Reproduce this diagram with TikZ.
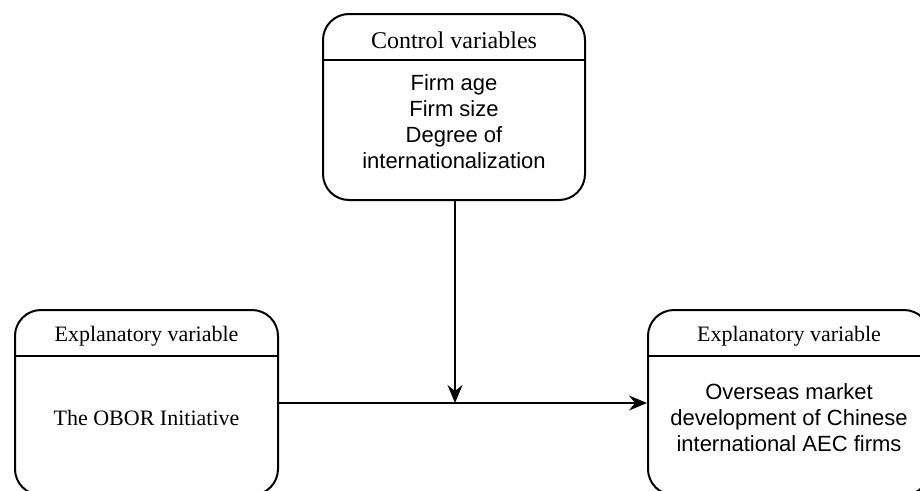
\documentclass[tikz,border=0pt]{standalone}
\usepackage{fontspec}
\setmainfont{Liberation Serif}
\setsansfont{Liberation Sans}
\usepackage{tikz}
\usetikzlibrary{arrows.meta,positioning}
\tikzstyle{varbox} = [rectangle, rounded corners=26pt, draw, line width=2pt, inner sep=0pt]
\tikzstyle{headtext} = [font=\fontsize{22}{26}\selectfont\rmfamily, anchor=center]
\tikzstyle{bodytext} = [font=\fontsize{22}{26}\selectfont\sffamily, align=center, anchor=center]
\tikzstyle{arrow} = [line width=2pt, -{Stealth[length=18pt,width=15pt,inset=6pt]}]

\begin{document}
\begin{tikzpicture}[x=1pt,y=-1pt]
\useasboundingbox (0,0) rectangle (920,490);
\clip (0,0) rectangle (920,490);

% Control variables
\node[varbox, minimum width=262pt, minimum height=186pt] (ctrl) at (454,107) {};
\draw[line width=2pt] (ctrl.west |- 0,60) -- (ctrl.east |- 0,60);
\node[headtext, font=\fontsize{24}{28}\selectfont\rmfamily] (ctrlhead) at (454,40) {Control variables};
\node[bodytext] (ctrlbody) at (454,122) {Firm age\\Firm size\\Degree of\\internationalization};

% Explanatory variable (left)
\node[varbox, minimum width=263pt, minimum height=185pt] (expl) at (146.5,402.5) {};
\draw[line width=2pt] (expl.west |- 0,356) -- (expl.east |- 0,356);
\node[headtext] (explhead) at (146.5,336) {Explanatory variable};
\node[headtext] (explbody) at (146.5,418) {The OBOR Initiative};

% Explanatory variable (right)
\node[varbox, minimum width=282pt, minimum height=185pt] (dev) at (789,402.5) {};
\draw[line width=2pt] (dev.west |- 0,356) -- (dev.east |- 0,356);
\node[headtext] (devhead) at (789,336) {Explanatory variable};
\node[bodytext] (devbody) at (789,418) {Overseas market\\development of Chinese\\international AEC firms};

% Arrows
\coordinate (meet) at (455,403);
\draw[arrow] (expl.east |- meet) -- (dev.west |- meet);
\draw[arrow] (ctrl.south -| meet) -- (meet);
\end{tikzpicture}
\end{document}
